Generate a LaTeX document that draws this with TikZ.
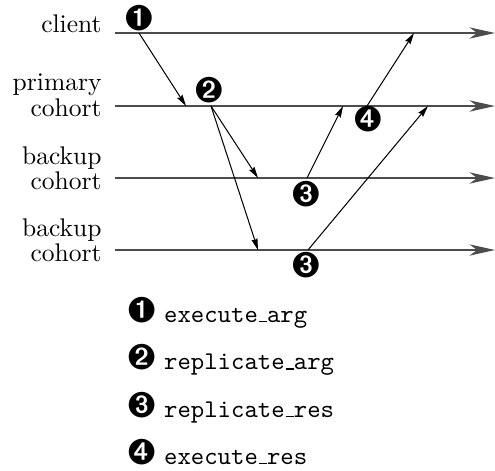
\documentclass[tikz,border=0pt]{standalone}
\usepackage{pifont}
\usetikzlibrary{arrows.meta, positioning}
\newcommand{\uscore}{\leavevmode\kern.06em\vbox{\hrule width.3em}}
\newcommand{\bigding}[1]{{\fontsize{14}{14}\selectfont\ding{#1}}}
\tikzset{
  timeline/.style={draw=black!70, line width=0.8pt, -{Stealth[length=10pt,width=4.4pt,inset=3pt]}},
  msg/.style={draw, line width=0.4pt, -{Stealth[length=4.5pt,width=2.4pt,inset=0.5pt]}},
  who/.style={inner sep=0pt, align=right, font=\fontsize{10}{8.5}\selectfont},
  stepnum/.style={inner sep=0pt},
  keyline/.style={inner sep=0pt, anchor=base west}
}

\begin{document}
\begin{tikzpicture}[x=0.392pt, y=-0.392pt]
        \useasboundingbox (0,0) rectangle (495,470);
        % the four time lines
        \coordinate (clA) at (115,33);  \coordinate (clB) at (495,33);
        \coordinate (prA) at (115,106); \coordinate (prB) at (495,106);
        \coordinate (baA) at (115,178); \coordinate (baB) at (495,178);
        \coordinate (bbA) at (115,250); \coordinate (bbB) at (495,250);
        \draw[timeline] (clA) -- (clB);
        \draw[timeline] (prA) -- (prB);
        \draw[timeline] (baA) -- (baB);
        \draw[timeline] (bbA) -- (bbB);
        \node[who, anchor=base east] (Client) at (102,33) {client};
        \node[who, anchor=south east] (Primary) at (102,117) {primary\\cohort};
        \node[who, anchor=south east] (BackupA) at (102,190) {backup\\cohort};
        \node[who, anchor=south east] (BackupB) at (102,262) {backup\\cohort};
        % message end points
        \coordinate (m1s) at (139,33);  \coordinate (m1e) at (186,106);
        \coordinate (m2s) at (211,106); \coordinate (m2a) at (258,178);
        \coordinate (m2b) at (258,250);
        \coordinate (m3a) at (307,178); \coordinate (m3ae) at (343,106);
        \coordinate (m3b) at (308,250); \coordinate (m3be) at (428,106);
        \coordinate (m4s) at (367,106); \coordinate (m4e) at (414,33);
        \draw[msg] (m1s) -- (m1e);
        \draw[msg] (m2s) -- (m2a);
        \draw[msg] (m2s) -- (m2b);
        \draw[msg] (m3a) -- (m3ae);
        \draw[msg] (m3b) -- (m3be);
        \draw[msg] (m4s) -- (m4e);
        % step numbers
        \node[stepnum] (S1) at (139,18) {\bigding{202}};
        \node[stepnum] (S2) at (209,90) {\bigding{203}};
        \node[stepnum] (S3a) at (306,194) {\bigding{204}};
        \node[stepnum] (S3b) at (306,265) {\bigding{204}};
        \node[stepnum] (S4) at (368,119) {\bigding{205}};
        % key
        \node[keyline] (Key1) at (127,322) {\bigding{202} \texttt{execute\uscore arg}};
        \node[keyline] (Key2) at (127,369.5) {\bigding{203} \texttt{replicate\uscore arg}};
        \node[keyline] (Key3) at (127,417) {\bigding{204} \texttt{replicate\uscore res}};
        \node[keyline] (Key4) at (127,464) {\bigding{205} \texttt{execute\uscore res}};
    \end{tikzpicture}
\end{document}
